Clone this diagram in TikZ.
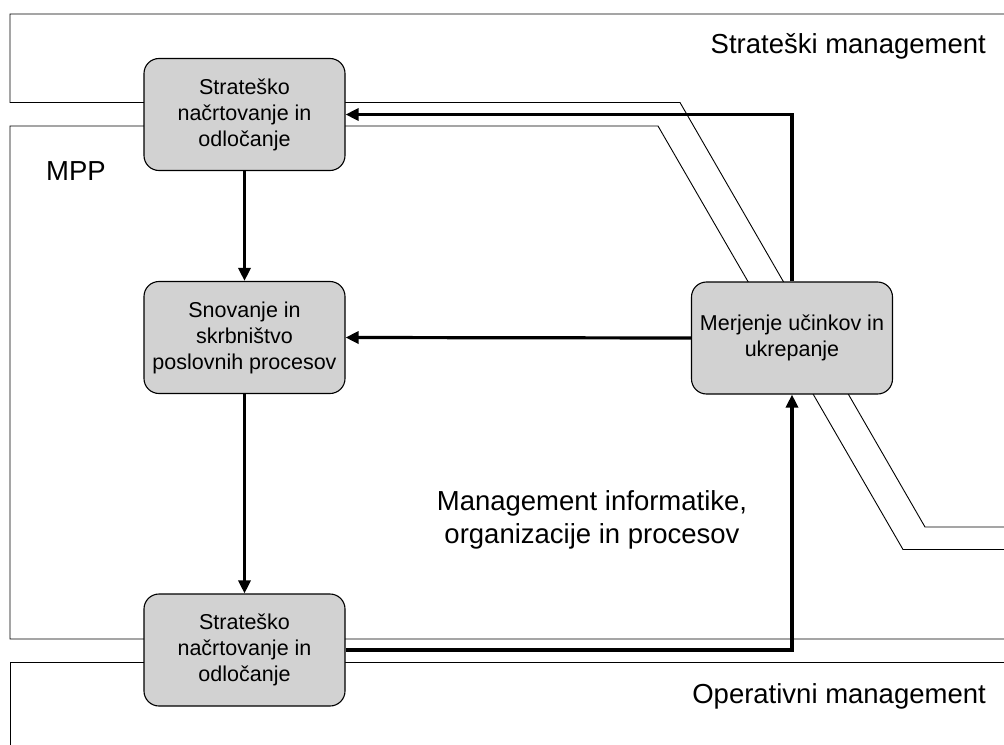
\documentclass[tikz,border=0pt]{standalone}
\usepackage{fontspec}
\setmainfont{Liberation Sans}
\usetikzlibrary{arrows.meta}
\definecolor{boxgray}{RGB}{210,210,210}
\tikzset{
  region/.style={draw=black, line width=0.9bp, line join=miter},
  procbox/.style={draw=black, line width=1.1bp, fill=boxgray, rounded corners=15bp,
    minimum width=201bp, minimum height=112bp, inner sep=0pt, align=center,
    font=\fontsize{21.5bp}{26bp}\selectfont},
  flow/.style={line width=3.2bp, line join=miter, -{Triangle[length=13bp,width=12bp]}},
  biglabel/.style={inner sep=0pt, font=\fontsize{27.5bp}{33bp}\selectfont}
}
\begin{document}
\begin{tikzpicture}[x=1bp,y=-1bp]
  \useasboundingbox (0,0) rectangle (1004,745);
  \fill[white] (0,0) rectangle (1004,745);

  % management levels
  \draw[region] (1004,14) -- (10,14) -- (10,102.5) -- (680,102.5) -- (925,527) -- (1004,527);
  \draw[region] (1004,549.5) -- (903,549.5) -- (658,126) -- (10,126) -- (10,639) -- (1004,639);
  \draw[region] (1004,662) -- (10,662) -- (10,745);

  % level labels
  \node[biglabel, anchor=base east] (lstrat) at (986,54) {Strateški management};
  \node[biglabel, anchor=base west] (lmpp) at (46,180) {MPP};
  \node[biglabel, anchor=base east] (lop) at (986,703) {Operativni management};
  \node[biglabel, align=center] (lmio) at (592,520) {Management informatike,\\organizacije in procesov};

  % process boxes
  \node[procbox] (plan) at (244.5,114.5) {Strateško\\načrtovanje in\\odločanje};
  \node[procbox] (design) at (244.5,337.5) {Snovanje in\\skrbništvo\\poslovnih procesov};
  \node[procbox] (oper) at (244.5,650) {Strateško\\načrtovanje in\\odločanje};
  \node[procbox] (measure) at (792,338) {Merjenje učinkov in\\ukrepanje};

  % flows
  \coordinate (ctop) at (measure.north |- plan.east);
  \coordinate (cbot) at (measure.south |- oper.east);
  \draw[flow] (plan.south) -- (design.north);
  \draw[flow] (design.south) -- (oper.north);
  \draw[flow] (measure.west) -- (design.east);
  \draw[flow] (measure.north) -- (ctop) -- (plan.east);
  \draw[flow] (oper.east) -- (cbot) -- (measure.south);
\end{tikzpicture}
\end{document}
